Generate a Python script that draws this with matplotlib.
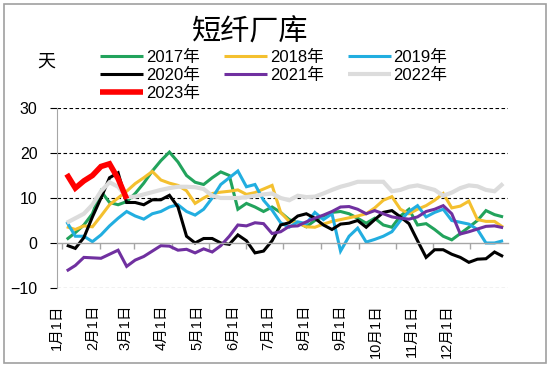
import matplotlib
matplotlib.use('Agg')
import matplotlib.pyplot as plt
import numpy as np
from matplotlib.patches import Rectangle

plt.rcParams['font.family'] = ['Liberation Sans', 'Noto Sans CJK SC']
plt.rcParams['axes.unicode_minus'] = True

# weekly values (days since Jan 1: 4, 11, 18, ...)
y2017 = [0.8, 2.3, 4.0, 6.5, 11.5, 9.0, 8.5, 9.2, 11.0, 13.3,
         16.0, 18.3, 20.2, 18.0, 15.0, 13.5, 13.0, 14.5, 15.8, 15.0,
         7.5, 8.8, 8.0, 7.0, 8.0, 6.8, 5.2, 4.5, 3.6, 5.0,
         6.0, 6.8, 7.0, 6.5, 5.5, 4.4, 5.5, 4.0, 3.5, 6.0,
         7.5, 4.0, 4.3, 3.0, 1.5, 0.7, 2.1, 3.5, 5.0, 7.2,
         6.3, 5.8]
y2018 = [3.6, 3.0, 3.8, 3.6, 6.0, 8.5, 10.0, 11.5, 13.2, 14.5,
         15.9, 14.0, 13.3, 12.8, 11.6, 8.8, 10.0, 11.0, 11.3, 11.5,
         11.8, 10.8, 11.2, 12.0, 12.8, 6.8, 4.8, 4.5, 3.6, 3.5,
         4.2, 4.8, 5.2, 5.6, 6.0, 6.5, 7.8, 9.5, 10.3, 7.5,
         6.5, 7.5, 8.3, 9.5, 11.0, 7.8, 8.2, 9.3, 5.2, 4.8,
         4.8, 3.5]
y2019 = [4.7, 1.5, 1.5, 0.3, 1.8, 3.8, 5.5, 7.0, 6.0, 5.3,
         6.5, 7.0, 8.0, 8.5, 7.0, 6.2, 7.5, 10.0, 13.0, 14.5,
         16.0, 12.5, 13.0, 9.5, 7.3, 4.5, 3.5, 4.7, 4.3, 6.8,
         5.2, 6.5, -1.8, 1.5, 3.3, 0.2, 0.8, 1.5, 2.5, 5.0,
         7.0, 8.3, 5.8, 6.8, 7.5, 5.0, 4.6, 4.2, 3.0, 0.0,
         0.0, 0.5]
y2020 = [-0.5, -1.2, 1.2, 5.8, 10.0, 14.5, 15.6, 9.0, 9.0, 8.5,
         9.6, 9.6, 10.6, 8.0, 1.5, 0.0, 1.0, 1.0, 0.0, -0.3,
         1.8, 0.5, -2.2, -1.8, 0.5, 4.0, 4.5, 6.0, 6.5, 5.5,
         4.0, 3.0, 4.2, 4.4, 5.0, 3.5, 5.2, 6.8, 7.2, 5.8,
         4.3, 0.5, -3.2, -1.5, -1.5, -2.5, -3.2, -4.3, -3.6, -3.5,
         -2.0, -3.0]
y2021 = [-6.2, -5.0, -3.2, -3.3, -3.4, -2.5, -1.6, -5.2, -3.8, -3.0,
         -1.8, -0.6, -0.7, -1.6, -1.4, -2.2, -1.3, -2.0, -0.6, 1.5,
         4.0, 3.8, 4.5, 4.3, 2.1, 2.5, 3.7, 3.8, 4.7, 5.5,
         6.2, 7.0, 8.0, 8.1, 7.5, 6.5, 7.2, 6.5, 5.8, 5.5,
         5.3, 5.8, 7.0, 7.5, 8.3, 6.5, 2.0, 2.5, 3.1, 3.7,
         3.8, 3.4]
y2022 = [4.5, 5.5, 6.5, 8.5, 11.5, 13.5, 12.5, 10.2, 10.3, 10.8,
         11.3, 11.8, 12.2, 12.5, 12.5, 12.4, 12.0, 10.5, 10.0, 10.0,
         10.0, 10.2, 10.5, 10.8, 11.0, 10.0, 9.5, 10.5, 10.2, 10.3,
         11.0, 11.8, 12.5, 13.0, 13.6, 13.6, 13.6, 13.6, 11.5, 11.8,
         12.5, 12.8, 12.3, 11.8, 10.5, 11.2, 12.2, 12.8, 12.6, 11.8,
         11.5, 13.2]
y2023 = [15.3, 12.2, 13.8, 15.0, 17.0, 17.6, 14.3, 9.8]

month_labels = ['1月1日', '2月1日', '3月1日', '4月1日', '5月1日', '6月1日',
                '7月1日', '8月1日', '9月1日', '10月1日', '11月1日', '12月1日']
month_start = [0, 31, 59, 90, 120, 151, 181, 212, 243, 273, 304, 334]

series = [
    ('2017年', y2017, '#22a35c', 2.2),
    ('2018年', y2018, '#f4c02f', 2.2),
    ('2019年', y2019, '#22aee0', 2.2),
    ('2020年', y2020, '#000000', 2.2),
    ('2021年', y2021, '#7030a0', 2.2),
    ('2022年', y2022, '#dcdcdc', 3.0),
    ('2023年', y2023, '#ff0000', 4.0),
]

fig = plt.figure(figsize=(5.5, 3.67), dpi=100)
ax = fig.add_axes([0.1036, 0.2153, 0.82, 0.4904])

handles = {}
for name, vals, col, lw in series:
    days = 4 + 7 * np.arange(len(vals))
    h, = ax.plot(days, vals, color=col, lw=lw, solid_joinstyle='miter',
                 solid_capstyle='butt', label=name)
    handles[name] = h

ax.set_xlim(0, 365)
ax.set_ylim(-10, 30)
ax.set_yticks([-10, 0, 10, 20, 30])
ax.yaxis.grid(True, color='black', linestyle=(0, (3.2, 2.2)), linewidth=0.8)
for gl, t in zip(ax.get_ygridlines(), ax.get_yticks()):
    if t == 0:
        gl.set_visible(False)
ax.set_axisbelow(True)

for s in ['top', 'right']:
    ax.spines[s].set_visible(False)
ax.spines['left'].set_color('#a6a6a6')
ax.spines['bottom'].set_position(('data', 0))
ax.spines['bottom'].set_color('#a6a6a6')
ax.spines['bottom'].set_linewidth(1.0)

ax.tick_params(axis='y', length=5, width=0.8, color='black', pad=9, labelsize=11.5)

# tick marks on the zero line at month starts, labels below the plot
ax.set_xticks(month_start, minor=True)
ax.tick_params(axis='x', which='minor', length=4, width=1.0, color='#a6a6a6',
               direction='out')
label_pos = [m * 0.955 - 4 for m in month_start]
ax.set_xticks(label_pos)
ax.set_xticklabels(month_labels, rotation=90, fontsize=10.5, va='top')
ax.tick_params(axis='x', which='major', length=0, pad=44)

order = ['2017年', '2020年', '2023年', '2018年', '2021年', '2019年', '2022年']
fig.legend([handles[k] for k in order], order, ncol=3, frameon=False,
           loc='upper left', bbox_to_anchor=(100 / 550, 1 - 50 / 367),
           borderpad=0, borderaxespad=0, fontsize=12, handlelength=2.6,
           handletextpad=0.15, labelspacing=0.16, columnspacing=1.45)

fig.text(0.455, 0.912, '短纤厂库', fontsize=21, ha='center', va='center',
         family=['Noto Sans CJK SC'])
fig.text(0.085, 0.831, '天', fontsize=13, ha='center', va='center',
         family=['Noto Sans CJK SC'])

fig.patches.append(Rectangle((0.008, 0.012), 0.984, 0.976, transform=fig.transFigure,
                             fill=False, edgecolor='#a0a0a0', linewidth=1.2))

fig.savefig('out.png', dpi=100)
